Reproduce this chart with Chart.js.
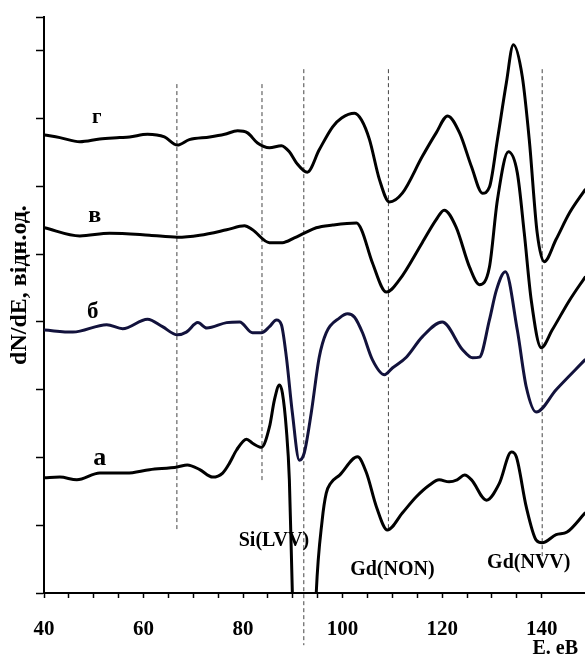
<!DOCTYPE html>
<html>
<head>
<meta charset="utf-8">
<script src="https://cdn.jsdelivr.net/npm/chart.js@4"></script>
<style>
  html, body { margin: 0; padding: 0; background: #fff; overflow: hidden; }
  #wrap { width: 585px; height: 657px; }
</style>
</head>
<body>
<div id="wrap"><canvas id="augerChart" width="585" height="657"></canvas></div>
<script>
// curve г
const energyG = [40.1, 43.2, 47.2, 51.2, 55.2, 57.2, 60.8, 64.2, 66.8, 69.2, 73.3, 76.3, 78.9, 80.9, 82.9, 85.3, 87.7, 89.3, 90.7, 92.9, 95.3, 98.0, 99.8, 102.4, 103.8, 105.4, 107.4, 109.4, 112.0, 116.0, 118.8, 121.1, 123.5, 125.9, 128.1, 129.5, 131.1, 132.9, 134.3, 136.1, 137.5, 139.1, 140.5, 142.9, 145.6, 148.7];
const valuesG = [6.76, 6.72, 6.66, 6.70, 6.72, 6.73, 6.77, 6.73, 6.61, 6.69, 6.73, 6.77, 6.82, 6.79, 6.64, 6.57, 6.60, 6.51, 6.35, 6.21, 6.54, 6.88, 7.01, 7.08, 6.98, 6.69, 6.10, 5.77, 5.90, 6.44, 6.79, 7.04, 6.79, 6.29, 5.90, 5.99, 6.69, 7.53, 8.09, 7.62, 6.69, 5.31, 4.89, 5.22, 5.61, 5.95];

// curve в
const energyV = [40.1, 47.2, 53.2, 61.2, 66.8, 71.3, 76.7, 80.3, 81.9, 85.3, 87.9, 90.3, 92.3, 94.7, 98.0, 102.8, 103.8, 106.0, 108.8, 111.4, 116.0, 118.8, 120.4, 122.8, 125.5, 127.5, 129.5, 131.1, 133.3, 135.1, 136.5, 137.9, 139.9, 142.1, 145.6, 148.7];
const valuesV = [5.39, 5.27, 5.31, 5.28, 5.25, 5.28, 5.36, 5.42, 5.36, 5.17, 5.17, 5.24, 5.31, 5.39, 5.43, 5.46, 5.36, 4.87, 4.44, 4.62, 5.17, 5.51, 5.65, 5.40, 4.81, 4.55, 4.81, 5.80, 6.51, 6.20, 5.31, 4.32, 3.62, 3.88, 4.32, 4.66];

// curve б
const energyB = [40.1, 45.8, 52.6, 55.8, 60.8, 63.8, 66.8, 68.6, 70.9, 72.7, 76.7, 79.3, 81.9, 83.7, 85.3, 86.7, 87.7, 88.7, 89.9, 91.3, 92.3, 93.7, 95.3, 96.7, 99.4, 101.0, 102.4, 104.0, 106.0, 108.4, 110.0, 112.8, 116.0, 120.0, 124.1, 126.1, 127.5, 129.5, 130.9, 132.7, 135.1, 136.9, 138.9, 142.9, 148.7];
const valuesB = [3.88, 3.85, 3.96, 3.90, 4.04, 3.93, 3.81, 3.85, 3.99, 3.91, 3.99, 4.00, 3.84, 3.84, 3.93, 4.03, 3.96, 3.48, 2.66, 1.96, 2.07, 2.66, 3.48, 3.84, 4.06, 4.12, 4.07, 3.84, 3.44, 3.22, 3.32, 3.48, 3.78, 4.00, 3.59, 3.47, 3.48, 4.03, 4.47, 4.74, 3.88, 3.04, 2.67, 3.00, 3.44];

// curve а
const energyA = [40.1, 43.2, 46.6, 51.2, 56.6, 61.2, 66.8, 68.8, 71.3, 73.9, 75.9, 77.3, 78.7, 80.7, 81.9, 83.7, 85.3, 86.3, 87.3, 87.9, 88.7, 89.3, 89.9, 90.6, 92.3, 94.0, 94.7, 95.9, 96.7, 97.6, 99.4, 103.0, 104.8, 106.8, 109.0, 112.0, 114.8, 117.4, 119.4, 121.4, 123.0, 124.5, 125.9, 128.9, 131.5, 133.9, 134.9, 136.9, 138.9, 140.1, 142.9, 145.1, 148.7];
const valuesA = [1.70, 1.71, 1.67, 1.77, 1.77, 1.82, 1.86, 1.89, 1.82, 1.71, 1.77, 1.92, 2.11, 2.27, 2.21, 2.15, 2.45, 2.85, 3.07, 2.95, 2.41, 1.67, 0.00, -1.60, -2.20, -1.60, 0.00, 1.08, 1.47, 1.62, 1.74, 2.01, 1.77, 1.27, 0.93, 1.18, 1.42, 1.59, 1.67, 1.64, 1.67, 1.74, 1.67, 1.37, 1.62, 2.08, 2.01, 1.27, 0.78, 0.74, 0.86, 0.90, 1.18];

// dashed marker lines
const markerEnergies = [66.7, 83.8, 92.2, 109.2, 140.1];
const markerTops = [7.51, 7.51, 7.73, 7.73, 7.73];
const markerBottoms = [0.90, 1.64, -0.77, 0.96, 0.53];

// labels
const curveNames = ['г', 'в', 'б', 'а'];
const curveNameX = [50.6, 50.2, 49.8, 51.2];
const curveNameY = [6.94, 5.48, 4.06, 1.89];
const curveNameSize = [21, 24, 23, 26];

const peakNames = ['Si(LVV)', 'Gd(NON)', 'Gd(NVV)'];
const peakNameX = [86.2, 110.0, 137.4];
const peakNameY = [0.69, 0.27, 0.37];

const toPoints = (xs, ys) => xs.map((x, i) => ({ x: x, y: ys[i] }));

const curveStyle = {
    borderWidth: 3,
    pointRadius: 0,
    fill: false,
    cubicInterpolationMode: 'monotone',
    borderJoinStyle: 'round',
    borderCapStyle: 'round'
};

const datasets = [
    { ...curveStyle, label: 'г', data: toPoints(energyG, valuesG), borderColor: '#000000' },
    { ...curveStyle, label: 'в', data: toPoints(energyV, valuesV), borderColor: '#000000' },
    { ...curveStyle, label: 'б', data: toPoints(energyB, valuesB), borderColor: '#12123c' },
    { ...curveStyle, label: 'а', data: toPoints(energyA, valuesA), borderColor: '#000000' }
];

markerEnergies.forEach((e, i) => {
    datasets.push({
        label: 'marker' + i,
        data: [{ x: e, y: markerTops[i] }, { x: e, y: markerBottoms[i] }],
        borderColor: '#444444',
        borderWidth: 1,
        borderDash: [4, 3],
        pointRadius: 0,
        fill: false,
        clip: false
    });
});

const textPlugin = {
    id: 'textPlugin',
    afterDraw(chart) {
        const ctx = chart.ctx;
        const xs = chart.scales.x;
        const ys = chart.scales.y;
        ctx.save();
        ctx.fillStyle = '#000';
        ctx.textAlign = 'center';
        ctx.textBaseline = 'alphabetic';
        curveNames.forEach((name, i) => {
            ctx.font = 'bold ' + curveNameSize[i] + 'px "Liberation Serif"';
            ctx.fillText(name, xs.getPixelForValue(curveNameX[i]), ys.getPixelForValue(curveNameY[i]));
        });
        ctx.font = 'bold 20px "Liberation Serif"';
        peakNames.forEach((name, i) => {
            ctx.fillText(name, xs.getPixelForValue(peakNameX[i]), ys.getPixelForValue(peakNameY[i]));
        });
        // x axis title
        ctx.textAlign = 'right';
        ctx.fillText('E. eB', chart.chartArea.right - 7, chart.height - 3);
        // y axis title
        ctx.translate(20, 285);
        ctx.rotate(-Math.PI / 2);
        ctx.textAlign = 'center';
        ctx.textBaseline = 'middle';
        ctx.font = 'bold 24px "Liberation Serif"';
        ctx.fillText('dN/dE, відн.од.', 0, 0);
        ctx.restore();
    }
};

const ctx = document.getElementById('augerChart').getContext('2d');
new Chart(ctx, {
    type: 'line',
    data: { datasets: datasets },
    plugins: [textPlugin],
    options: {
        responsive: false,
        animation: false,
        devicePixelRatio: 1,
        layout: { padding: { top: 17, right: 0, left: 0, bottom: 0 } },
        plugins: {
            legend: { display: false },
            tooltip: { enabled: false }
        },
        scales: {
            x: {
                type: 'linear',
                min: 40,
                max: 148.7,
                afterBuildTicks: (scale) => {
                    scale.ticks = scale.ticks.filter(t => t.value % 5 === 0);
                },
                afterFit: (scale) => { scale.height = 64; },
                ticks: {
                    stepSize: 5,
                    autoSkip: false,
                    maxRotation: 0,
                    padding: 19,
                    color: '#000',
                    font: { family: 'Liberation Serif', size: 21, weight: 'bold' },
                    callback: (v) => (v % 20 === 0 ? v : '')
                },
                grid: {
                    drawOnChartArea: false,
                    tickLength: 5,
                    tickColor: '#000',
                    tickWidth: 1.5
                },
                border: { color: '#000', width: 2 }
            },
            y: {
                min: 0,
                max: 8.5,
                afterFit: (scale) => { scale.width = 44; },
                ticks: {
                    stepSize: 1,
                    callback: () => ''
                },
                grid: {
                    drawOnChartArea: false,
                    tickLength: 8,
                    tickColor: '#000',
                    tickWidth: 1.5
                },
                border: { color: '#000', width: 2 }
            }
        }
    }
});
</script>
</body>
</html>
